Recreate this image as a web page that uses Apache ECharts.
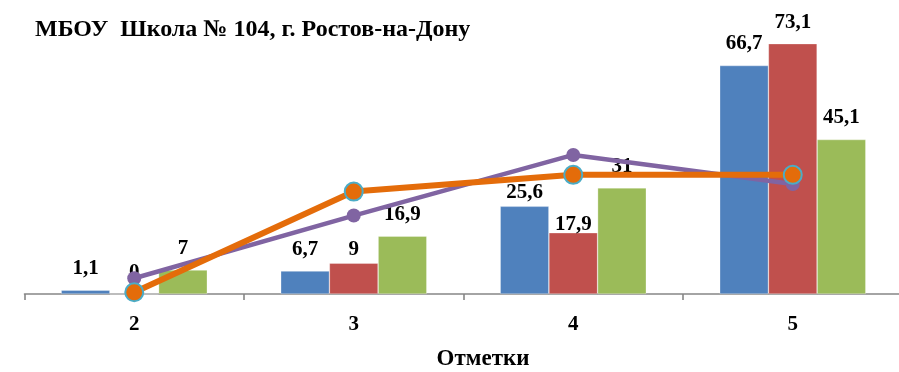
<!DOCTYPE html>
<html>
<head>
<meta charset="utf-8">
<script src="https://cdn.jsdelivr.net/npm/echarts@6/dist/echarts.min.js"></script>
<style>html,body{margin:0;padding:0;background:#fff}#c{width:899px;height:372px}</style>
</head>
<body>
<div id="c"></div>
<script>
const titleText = 'МБОУ  Школа № 104, г. Ростов-на-Дону';
const axisNameText = 'Отметки';
const categories = ['2', '3', '4', '5'];
const seriesBlue = [1.1, 6.7, 25.6, 66.7];
const seriesRed = [0, 9, 17.9, 73.1];
const seriesGreen = [7, 16.9, 31, 45.1];
const linePurple = [4.6, 22.9, 40.6, 32.1];
const lineOrange = [0.5, 29.9, 34.8, 34.8];

const FONT = "'Liberation Serif', 'Times New Roman', serif";
// per-point label nudges (style only)
const labelNudge = { red: {1: 8, 2: 13}, blue: {2: 8} };

function barData(vals, key) {
  return vals.map((v, i) => {
    const dy = (labelNudge[key] || {})[i];
    return dy ? { value: v, label: { offset: [0, dy] } } : v;
  });
}
const labelStyle = {
  show: true, position: 'top', distance: 11,
  fontFamily: FONT, fontWeight: 'bold', fontSize: 21, color: '#000',
  formatter: p => String(p.value).replace('.', ',')
};
function bar(name, vals, key, color) {
  return {
    name, type: 'bar', data: barData(vals, key), barWidth: 48.7, barGap: '0%',
    itemStyle: { color, borderColor: 'rgba(255,255,255,0.5)', borderWidth: 0.6 },
    label: labelStyle, z: 2
  };
}

const chart = echarts.init(document.getElementById('c'), null, { renderer: 'canvas' });
chart.setOption({
  animation: false,
  title: [
    { text: titleText, left: 35, top: 18, padding: 0,
      textStyle: { fontFamily: FONT, fontWeight: 'bold', fontSize: 24, color: '#000' } },
    { text: axisNameText, left: 483, top: 348, padding: 0, textAlign: 'center',
      textStyle: { fontFamily: FONT, fontWeight: 'bold', fontSize: 23, color: '#000' } }
  ],
  grid: { left: 24.5, top: 20, width: 878, height: 274, containLabel: false, outerBoundsMode: 'none' },
  xAxis: {
    type: 'category', data: categories, boundaryGap: true,
    axisLine: { lineStyle: { color: '#868686', width: 1.6 } },
    axisTick: { show: true, length: 6, lineStyle: { color: '#868686', width: 1.6 } },
    axisLabel: { margin: 20, fontFamily: FONT, fontWeight: 'bold', fontSize: 21, color: '#000' }
  },
  yAxis: { type: 'value', min: 0, max: 80, show: false, splitLine: { show: false } },
  series: [
    bar('Школа А', seriesBlue, 'blue', '#4F81BD'),
    bar('Школа Б', seriesRed, 'red', '#C0504D'),
    bar('Школа В', seriesGreen, 'green', '#9BBB59'),
    { name: 'Линия 1', type: 'line', data: linePurple, symbol: 'circle', symbolSize: 14,
      lineStyle: { color: '#8064A2', width: 4.5 }, itemStyle: { color: '#8064A2' }, z: 3 },
    { name: 'Линия 2', type: 'line', data: lineOrange, symbol: 'circle', symbolSize: 18,
      lineStyle: { color: '#E46C0A', width: 6 },
      itemStyle: { color: '#E46C0A', borderColor: '#4BACC6', borderWidth: 2 }, z: 4 }
  ]
});
</script>
</body>
</html>
